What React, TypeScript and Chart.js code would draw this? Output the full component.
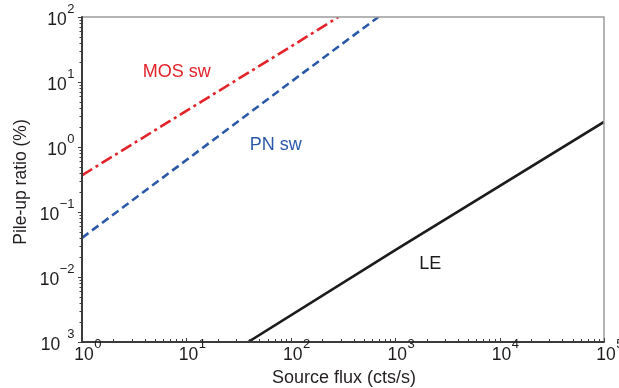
import React, { useEffect, useRef } from 'react';
import { Chart, registerables } from 'chart.js';

Chart.register(...registerables);

// ---- data ----
const mosFlux = [1, 10, 100, 286];
const mosPileup = [0.367, 3.6, 35, 100];
const pnFlux = [1, 10, 100, 690];
const pnPileup = [0.04, 0.63, 10, 100];
const leFlux = [39, 1000, 100000];
const lePileup = [0.001, 0.026, 2.43];

const xTickValues = [1, 10, 100, 1000, 10000, 100000];
const xTickExponents = ['0', '1', '2', '3', '4', '5'];
const yTickValues = [100, 10, 1, 0.1, 0.01, 0.001];
const yTickExponents = ['2', '1', '0', '\u22121', '\u22122', '\u20023'];

const seriesLabels = ['MOS sw', 'PN sw', 'LE'];
const labelFlux = [8.1, 71.6, 2168];
const labelPileup = [14.3, 1.06, 0.0161];
const seriesColors = ['#e3232a', '#2b59a8', '#1e1b1c'];

const xTitle = 'Source flux (cts/s)';
const yTitle = 'Pile-up ratio (%)';

const FONT = '"Liberation Sans", Arial, sans-serif';

const toPoints = (xs: number[], ys: number[]) => xs.map((v, i) => ({ x: v, y: ys[i] }));

const axesPlugin = {
  id: 'customAxes',
  afterDatasetsDraw(chart: any) {
    const { ctx, chartArea: a, scales } = chart;
    const xs = scales.x;
    const ys = scales.y;
    ctx.save();

    // frame: top/right light grey
    ctx.strokeStyle = '#9c9c9c';
    ctx.lineWidth = 1.5;
    ctx.beginPath();
    ctx.moveTo(a.left, a.top);
    ctx.lineTo(a.right, a.top);
    ctx.lineTo(a.right, a.bottom);
    ctx.stroke();

    // left/bottom dark
    ctx.strokeStyle = '#3c3c3c';
    ctx.lineWidth = 2;
    ctx.beginPath();
    ctx.moveTo(a.left, a.top - 0.75);
    ctx.lineTo(a.left, a.bottom);
    ctx.lineTo(a.right + 0.75, a.bottom);
    ctx.stroke();

    // ticks
    ctx.lineWidth = 1;
    ctx.strokeStyle = '#3c3c3c';
    for (let d = 0; d < xTickValues.length; d++) {
      const base = xTickValues[d];
      for (let m = 1; m <= 9; m++) {
        const v = base * m;
        if (v > xTickValues[xTickValues.length - 1]) break;
        const px = Math.round(xs.getPixelForValue(v)) + 0.5;
        const len = m === 1 ? 4 : 3;
        ctx.beginPath();
        ctx.moveTo(px, a.bottom);
        ctx.lineTo(px, a.bottom - len);
        ctx.stroke();
      }
    }
    const yAsc = [...yTickValues].sort((p, q) => p - q);
    for (let d = 0; d < yAsc.length; d++) {
      const base = yAsc[d];
      for (let m = 1; m <= 9; m++) {
        const v = base * m;
        if (v > yAsc[yAsc.length - 1] * 1.0001) break;
        const py = Math.round(ys.getPixelForValue(v)) + 0.5;
        const len = m === 1 ? 4 : 2.5;
        ctx.beginPath();
        ctx.moveTo(a.left, py);
        ctx.lineTo(a.left - len, py);
        ctx.stroke();
      }
    }

    // tick labels
    ctx.fillStyle = '#1f1b1c';
    ctx.textBaseline = 'alphabetic';
    ctx.textAlign = 'left';
    const baseFont = `17.5px ${FONT}`;
    const expFont = `13px ${FONT}`;
    xTickValues.forEach((v, i) => {
      const px = xs.getPixelForValue(v);
      ctx.font = baseFont;
      const bw = ctx.measureText('10').width;
      const left = px - bw / 2 + 2;
      ctx.fillText('10', left, 360);
      ctx.font = expFont;
      ctx.fillText(xTickExponents[i], left + bw + 0.5, 348);
    });
    yTickValues.forEach((v, i) => {
      const py = ys.getPixelForValue(v);
      ctx.font = expFont;
      const ew = ctx.measureText(yTickExponents[i]).width;
      ctx.font = baseFont;
      const bw = ctx.measureText('10').width;
      const right = 74.5;
      ctx.fillText('10', right - ew - bw - 0.5, py + 8);
      ctx.font = expFont;
      ctx.fillText(yTickExponents[i], right - ew, py - 4.5);
    });

    // axis titles
    ctx.fillStyle = '#231f20';
    ctx.textAlign = 'center';
    ctx.textBaseline = 'middle';
    ctx.font = `18px ${FONT}`;
    ctx.fillText(xTitle, 344, 378);
    ctx.save();
    ctx.translate(21, 182);
    ctx.rotate(-Math.PI / 2);
    ctx.font = `17.5px ${FONT}`;
    ctx.fillText(yTitle, 0, 0);
    ctx.restore();

    // series labels
    ctx.font = `18px ${FONT}`;
    seriesLabels.forEach((t, i) => {
      ctx.fillStyle = seriesColors[i];
      ctx.fillText(t, xs.getPixelForValue(labelFlux[i]), ys.getPixelForValue(labelPileup[i]));
    });

    ctx.restore();
  },
};

export default function App() {
  const ref = useRef<HTMLCanvasElement | null>(null);
  useEffect(() => {
    if (!ref.current) return;
    const chart = new Chart(ref.current, {
      type: 'line',
      data: {
        datasets: [
          {
            label: seriesLabels[0],
            data: toPoints(mosFlux, mosPileup),
            borderColor: seriesColors[0],
            borderWidth: 2.6,
            borderDash: [12, 4, 3, 4],
            pointRadius: 0,
            tension: 0,
          },
          {
            label: seriesLabels[1],
            data: toPoints(pnFlux, pnPileup),
            borderColor: seriesColors[1],
            borderWidth: 2.6,
            borderDash: [8, 4.5],
            pointRadius: 0,
            tension: 0,
          },
          {
            label: seriesLabels[2],
            data: toPoints(leFlux, lePileup),
            borderColor: seriesColors[2],
            borderWidth: 2.6,
            pointRadius: 0,
            tension: 0,
          },
        ],
      },
      options: {
        animation: false,
        responsive: true,
        maintainAspectRatio: false,
        layout: { padding: { left: 82, right: 15, top: 17, bottom: 46 } },
        plugins: { legend: { display: false }, tooltip: { enabled: false } },
        scales: {
          x: { type: 'logarithmic', min: 1, max: 100000, display: false },
          y: { type: 'logarithmic', min: 0.001, max: 100, display: false },
        },
      },
      plugins: [axesPlugin],
    });
    return () => chart.destroy();
  }, []);
  return (
    <div style={{ position: 'absolute', left: 0, top: 0, width: 619, height: 388, background: '#fff' }}>
      <canvas ref={ref} />
    </div>
  );
}
